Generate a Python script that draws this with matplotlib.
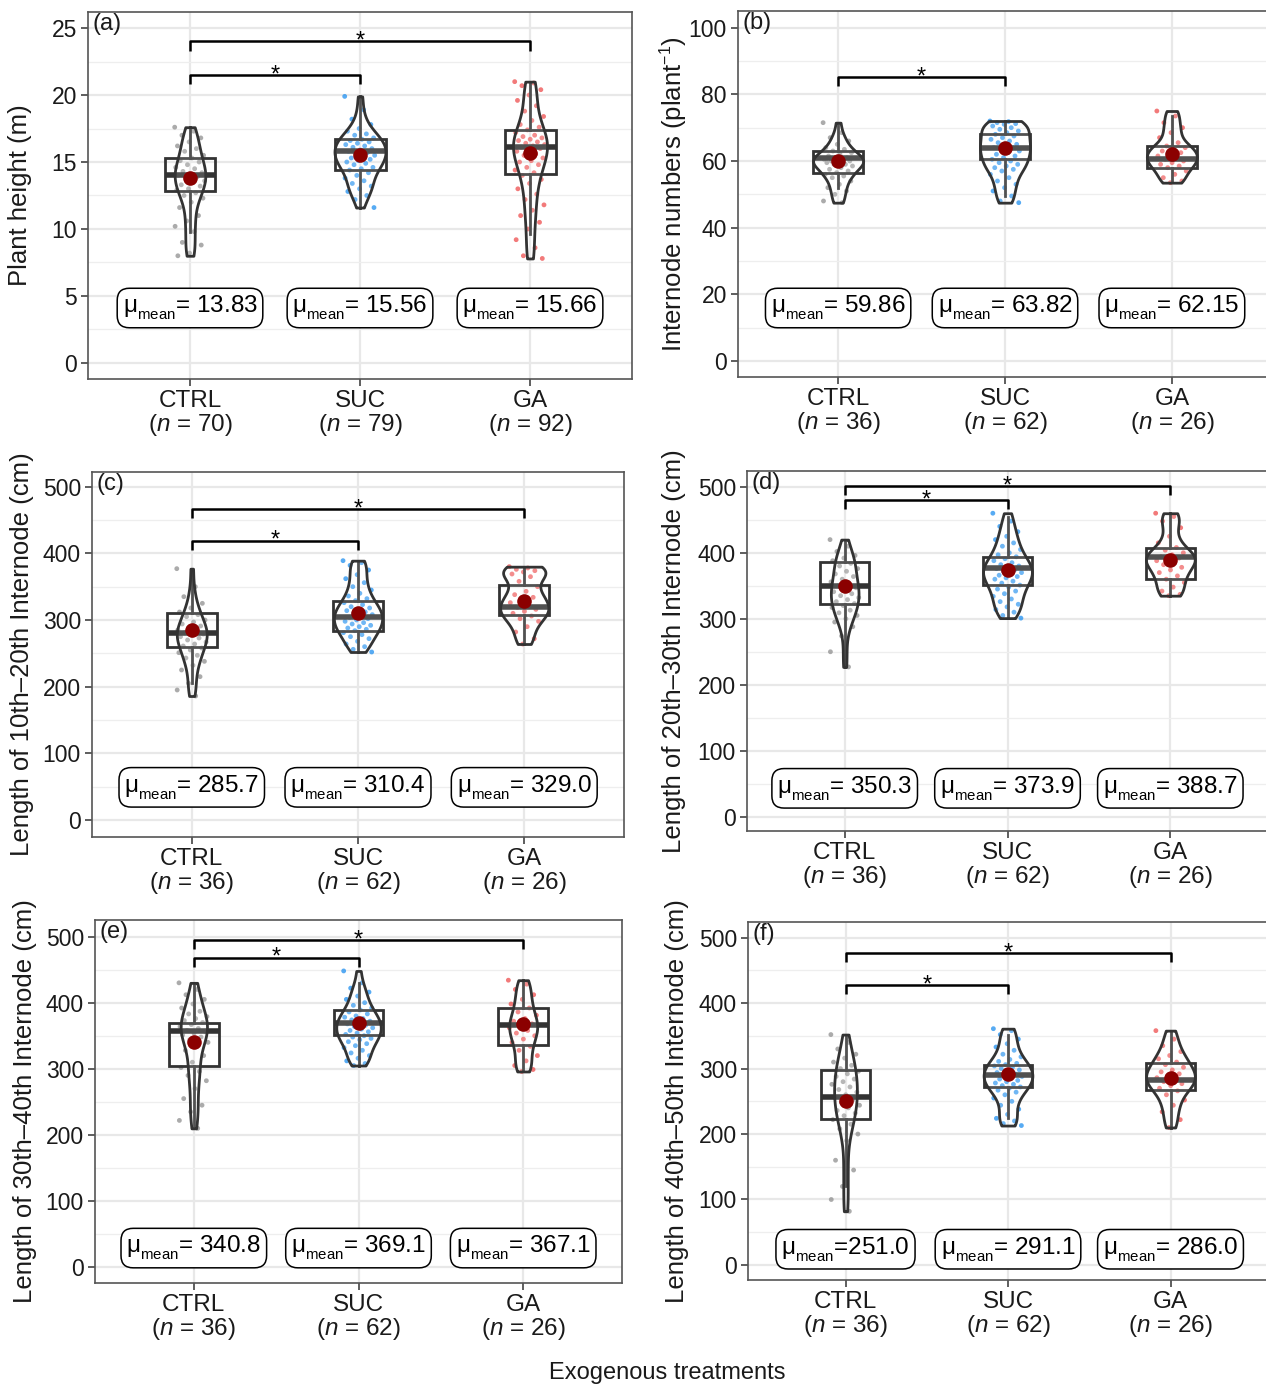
import matplotlib
matplotlib.use("Agg")
import matplotlib.pyplot as plt
import numpy as np

try:
    import matplotlib._mathtext as _mt
    _mt.FontConstantsBase.sub1 = 0.6
    _mt.SHRINK_FACTOR = 0.62
except Exception:
    pass

plt.rcParams['font.family'] = ['Liberation Sans', 'DejaVu Sans']
plt.rcParams['mathtext.fontset'] = 'custom'
plt.rcParams['mathtext.rm'] = 'Liberation Sans'
plt.rcParams['mathtext.it'] = 'Liberation Sans:italic'
plt.rcParams['mathtext.bf'] = 'Liberation Sans:bold'

# ---------------- data ----------------
groups = ["CTRL", "SUC", "GA"]
panel_letters = ["(a)", "(b)", "(c)", "(d)", "(e)", "(f)"]
ylabels = ["Plant height (m)",
           "Internode numbers (plant$^{-1}$)",
           "Length of 10th\u201320th Internode (cm)",
           "Length of 20th\u201330th Internode (cm)",
           "Length of 30th\u201340th Internode (cm)",
           "Length of 40th\u201350th Internode (cm)"]
n_a = [70, 79, 92]
n_rest = [36, 62, 26]
n_counts = [n_a, n_rest, n_rest, n_rest, n_rest, n_rest]

mean_labels = [["= 13.83", "= 15.56", "= 15.66"],
               ["= 59.86", "= 63.82", "= 62.15"],
               ["= 285.7", "= 310.4", "= 329.0"],
               ["= 350.3", "= 373.9", "= 388.7"],
               ["= 340.8", "= 369.1", "= 367.1"],
               ["=251.0", "= 291.1", "= 286.0"]]
means = [[13.83, 15.56, 15.66],
         [59.86, 63.82, 62.15],
         [285.7, 310.4, 329.0],
         [350.3, 373.9, 388.7],
         [340.8, 369.1, 367.1],
         [251.0, 291.1, 286.0]]

# box statistics (q1, median, q3, whisker low, whisker high)
q1 = [[12.8, 14.4, 14.1], [56.3, 60.5, 57.8], [259, 284, 307],
      [322, 351, 361], [304, 351, 336], [223, 272, 268]]
med = [[14.0, 15.8, 16.1], [60.8, 63.8, 60.5], [281, 304, 320],
       [349, 377, 393], [357, 370, 366], [257, 290, 283]]
q3 = [[15.3, 16.7, 17.4], [62.9, 68.0, 64.4], [310, 329, 352],
      [386, 393, 407], [370, 389, 392], [298, 306, 309]]
whislo = [[9.8, 11.6, 9.6], [52, 49.5, 54], [205, 252, 264],
          [227, 301, 335], [210, 305, 296], [120, 224, 210]]
whishi = [[17.6, 19.9, 21.0], [71.5, 72, 73.5], [377, 389, 380],
          [420, 455, 460], [430, 430, 434], [352, 352, 358]]

# observations (read from the jittered points)
a_ctrl = [17.6, 17.3, 17.0, 16.8, 16.5, 16.2, 16.0, 15.8, 15.5, 15.3, 15.1, 15.0, 14.8, 14.6,
          14.5, 14.3, 14.2, 14.1, 14.0, 13.9, 13.8, 13.6, 13.5, 13.3, 13.2, 13.0, 12.9, 12.7,
          12.5, 12.3, 12.0, 11.6, 11.0, 10.6, 10.2, 9.8, 9.0, 8.8, 8.2, 8.0]
a_suc = [19.9, 18.9, 18.2, 17.8, 17.5, 17.3, 17.1, 17.0, 16.8, 16.7, 16.6, 16.5, 16.4, 16.3,
         16.2, 16.1, 16.0, 15.9, 15.8, 15.7, 15.6, 15.5, 15.4, 15.3, 15.2, 15.1, 15.0, 14.9,
         14.8, 14.6, 14.5, 14.4, 14.2, 14.0, 13.8, 13.6, 13.4, 13.2, 13.0, 12.8, 12.5, 12.2, 11.6]
a_ga = [21.0, 20.9, 20.7, 20.4, 20.0, 19.6, 19.2, 18.8, 18.4, 18.1, 17.8, 17.6, 17.4, 17.2,
        17.0, 16.9, 16.8, 16.7, 16.6, 16.5, 16.4, 16.3, 16.2, 16.1, 16.0, 15.9, 15.8, 15.6,
        15.5, 15.3, 15.1, 15.0, 14.8, 14.6, 14.4, 14.2, 14.0, 13.7, 13.4, 13.0, 12.6, 12.2,
        11.8, 11.4, 11.0, 10.5, 10.0, 9.2, 8.6, 8.0, 7.8]
b_ctrl = [71.5, 68.5, 67.0, 66.0, 65.0, 64.0, 63.5, 63.0, 62.5, 62.0, 61.5, 61.0, 61.0, 60.5,
          60.5, 60.0, 60.0, 59.5, 59.5, 59.0, 59.0, 58.5, 58.0, 57.5, 57.0, 56.5, 56.0, 55.5,
          55.0, 54.0, 53.0, 52.0, 51.0, 50.0, 48.0, 47.5]
b_suc = [72.0, 71.8, 71.5, 71.2, 71.0, 70.5, 70.0, 69.5, 69.0, 68.5, 68.0, 67.5, 67.0, 66.5,
         66.0, 65.5, 65.0, 64.5, 64.0, 64.0, 63.5, 63.0, 62.5, 62.0, 61.5, 61.0, 60.5, 60.0,
         59.5, 59.0, 58.5, 58.0, 57.5, 57.0, 56.0, 55.0, 54.0, 53.0, 52.0, 51.0, 49.5, 48.0, 47.5]
b_ga = [75.0, 73.5, 71.5, 70.0, 68.5, 67.0, 65.5, 64.5, 64.0, 63.5, 63.0, 62.5, 62.0, 61.5,
        61.0, 60.5, 60.0, 59.5, 59.0, 58.5, 58.0, 57.0, 56.0, 55.0, 54.0, 53.5]
c_ctrl = [377, 350, 335, 325, 318, 312, 308, 305, 300, 297, 294, 291, 288, 285, 283, 281, 279,
          277, 275, 273, 270, 267, 264, 261, 258, 255, 251, 247, 243, 238, 232, 225, 215, 205,
          195, 186]
c_suc = [389, 386, 382, 375, 368, 362, 356, 350, 345, 340, 336, 332, 329, 326, 323, 320, 318,
         316, 314, 312, 310, 308, 306, 304, 302, 300, 298, 296, 294, 292, 290, 288, 286, 284,
         281, 278, 275, 272, 268, 264, 260, 256, 252]
c_ga = [380, 378, 376, 374, 372, 369, 365, 358, 350, 343, 338, 334, 330, 326, 322, 319, 316,
        313, 310, 306, 302, 298, 290, 282, 272, 264]
d_ctrl = [420, 410, 402, 396, 392, 388, 384, 380, 376, 372, 368, 364, 360, 356, 353, 350, 347,
          344, 341, 338, 335, 332, 329, 326, 323, 320, 317, 313, 309, 305, 300, 295, 288, 274,
          250, 227]
d_suc = [460, 448, 440, 432, 425, 420, 415, 410, 405, 400, 397, 394, 391, 388, 385, 382, 380,
         378, 376, 374, 372, 370, 368, 366, 364, 362, 360, 357, 354, 351, 348, 345, 342, 338,
         334, 330, 326, 322, 318, 314, 310, 305, 301]
d_ga = [460, 455, 448, 438, 425, 415, 408, 404, 400, 397, 394, 392, 390, 388, 385, 382, 378,
        374, 370, 365, 360, 355, 348, 342, 337, 335]
e_ctrl = [430, 420, 412, 405, 398, 392, 387, 383, 379, 376, 373, 370, 367, 364, 361, 358, 356,
          354, 351, 348, 344, 340, 335, 328, 320, 310, 302, 296, 290, 282, 270, 255, 245, 235,
          222, 210]
e_suc = [448, 430, 422, 416, 410, 405, 400, 396, 392, 389, 386, 383, 380, 378, 376, 374, 372,
         370, 368, 366, 364, 362, 360, 358, 356, 354, 352, 350, 348, 346, 344, 341, 338, 335,
         332, 328, 324, 320, 316, 312, 308, 305]
e_ga = [434, 428, 420, 412, 405, 398, 392, 386, 381, 376, 372, 368, 365, 362, 358, 354, 350,
        345, 340, 334, 328, 320, 312, 305, 299, 296]
f_ctrl = [352, 340, 330, 322, 316, 310, 305, 300, 296, 292, 288, 284, 280, 276, 272, 268, 264,
          260, 256, 252, 248, 244, 240, 236, 232, 228, 222, 215, 208, 200, 190, 160, 145, 120,
          100, 82]
f_suc = [361, 358, 352, 345, 338, 333, 328, 322, 318, 314, 311, 308, 306, 304, 302, 300, 298,
         296, 294, 292, 290, 288, 286, 284, 282, 280, 278, 276, 274, 272, 270, 267, 264, 260,
         255, 250, 244, 238, 230, 224, 220, 216, 213]
f_ga = [358, 345, 335, 326, 320, 315, 310, 306, 302, 298, 295, 292, 289, 286, 283, 280, 277,
        274, 270, 266, 260, 252, 244, 234, 222, 210]

observations = [[a_ctrl, a_suc, a_ga], [b_ctrl, b_suc, b_ga], [c_ctrl, c_suc, c_ga],
                [d_ctrl, d_suc, d_ga], [e_ctrl, e_suc, e_ga], [f_ctrl, f_suc, f_ga]]

# significance comparisons: (group i, group j, bracket level)
sig_pairs = [[(1, 2, 21.5), (1, 3, 24.0)],
             [(1, 2, 85.2)],
             [(1, 2, 419), (1, 3, 466)],
             [(1, 2, 480), (1, 3, 501)],
             [(1, 2, 468), (1, 3, 495)],
             [(1, 2, 428), (1, 3, 476)]]

# ---------------- layout / style ----------------
W, H = 1266, 1385
ax_px = [(88, 632, 12, 379), (738, 1272, 11, 377),
         (92, 624, 472, 837), (747, 1268, 471, 831),
         (95, 622, 920, 1283), (748, 1268, 922, 1280)]
ylabel_x_px = [32, 690, 34, 686, 37, 689]
ylims = [(-1.2, 26.2), (-4.8, 105), (-25.5, 522), (-21.7, 524), (-23.8, 525), (-23, 524)]
major_ticks = [np.arange(0, 26, 5), np.arange(0, 101, 20)] + [np.arange(0, 501, 100)] * 4
minor_ticks = [np.arange(2.5, 26, 5), np.arange(10, 101, 20)] + [np.arange(50, 501, 100)] * 4
label_y = [4.1, 15.9, 49, 43, 29, 24]
violin_widths = [[0.18, 0.30, 0.20], [0.30, 0.30, 0.30], [0.18, 0.29, 0.29],
                 [0.17, 0.30, 0.30], [0.16, 0.27, 0.17], [0.14, 0.30, 0.30]]
pt_colors = ["#8f8f8f", "#1f8ff0", "#ee4d4d"]
dark = "#333333"

fig = plt.figure(figsize=(W / 100, H / 100), dpi=100)

for k in range(6):
    l, r, t, b = ax_px[k]
    ax = fig.add_axes([l / W, 1 - b / H, (r - l) / W, (b - t) / H])
    ax.set_xlim(0.4, 3.6)
    ax.set_ylim(*ylims[k])
    ax.set_yticks(major_ticks[k])
    ax.set_yticks(minor_ticks[k], minor=True)
    ax.set_xticks([1, 2, 3])
    ax.set_xticklabels([f"{g}\n($\\mathit{{n}}$ = {n})" for g, n in zip(groups, n_counts[k])],
                       fontsize=17.5, linespacing=1.0)
    ax.tick_params(axis='y', which='major', labelsize=16.5, length=5, width=1.1,
                   color=dark, labelcolor='#1a1a1a', pad=3)
    ax.tick_params(axis='y', which='minor', length=0)
    ax.tick_params(axis='x', length=5, width=1.1, color=dark, labelcolor='#1a1a1a', pad=3)
    ax.grid(True, which='major', color='#e8e8e8', lw=1.6, zorder=0)
    ax.grid(True, which='minor', axis='y', color='#eeeeee', lw=0.9, zorder=0)
    ax.set_axisbelow(True)
    for sp in ax.spines.values():
        sp.set_color('#555555')
        sp.set_linewidth(1.2)
    ax.set_ylabel(ylabels[k], fontsize=18.5, color='#1a1a1a')
    ax.yaxis.set_label_coords((ylabel_x_px[k] - l) / (r - l), 0.5)

    data = observations[k]
    # jittered points
    for gi, vals in enumerate(data):
        vals = np.asarray(vals, float)
        idx = np.arange(len(vals))
        off = ((idx * 0.6180339887) % 1.0 - 0.5) * 0.18
        ax.scatter(gi + 1 + off, vals, s=12, color=pt_colors[gi], alpha=0.75,
                   edgecolors='none', zorder=2)

    # box plots
    stats = []
    for gi in range(3):
        stats.append(dict(q1=q1[k][gi], med=med[k][gi], q3=q3[k][gi],
                          whislo=whislo[k][gi], whishi=whishi[k][gi], fliers=[]))
    ax.bxp(stats, positions=[1, 2, 3], widths=0.3, showcaps=False, showfliers=False,
           patch_artist=True,
           boxprops=dict(facecolor='none', edgecolor=dark, linewidth=2.0),
           medianprops=dict(color=dark, linewidth=4.0),
           whiskerprops=dict(color=dark, linewidth=2.0), manage_ticks=False, zorder=3)

    # violins
    vp = ax.violinplot(data, positions=[1, 2, 3], widths=violin_widths[k],
                       showextrema=False, bw_method=0.35)
    for body in vp['bodies']:
        body.set_facecolor((1, 1, 1, 0.15))
        body.set_edgecolor(dark)
        body.set_linewidth(2.0)
        body.set_alpha(None)
        body.set_zorder(4)

    # means
    ax.plot([1, 2, 3], means[k], 'o', color='#8b0000', ms=10.5, zorder=6, mec='none')

    # mean labels
    for gi in range(3):
        ax.text(gi + 1, label_y[k], "$\\mathrm{\\mu}_{\\mathrm{mean}}$" + mean_labels[k][gi],
                ha='center', va='center', fontsize=17.5, color='black', zorder=7,
                bbox=dict(boxstyle='round,pad=0.22,rounding_size=0.5', fc='white',
                          ec='black', lw=1.1))

    # significance brackets
    yr = ylims[k][1] - ylims[k][0]
    drop = 0.025 * yr
    for (i, j, yv) in sig_pairs[k]:
        ax.plot([i, i, j, j], [yv - drop, yv, yv, yv - drop], color='black', lw=1.8,
                zorder=5, solid_capstyle='butt')
        ax.annotate("*", xy=((i + j) / 2, yv), xytext=(0, -4.5), textcoords='offset points',
                    ha='center', va='baseline', fontsize=17, color='black')

    ax.text(0.008, 0.997, panel_letters[k], transform=ax.transAxes, ha='left', va='top',
            fontsize=17, color='#1a1a1a')

fig.text(667 / W, 1 - 1373 / H, "Exogenous treatments", ha='center', va='center',
         fontsize=17, color='#1a1a1a')

fig.savefig("out.png", dpi=100)
